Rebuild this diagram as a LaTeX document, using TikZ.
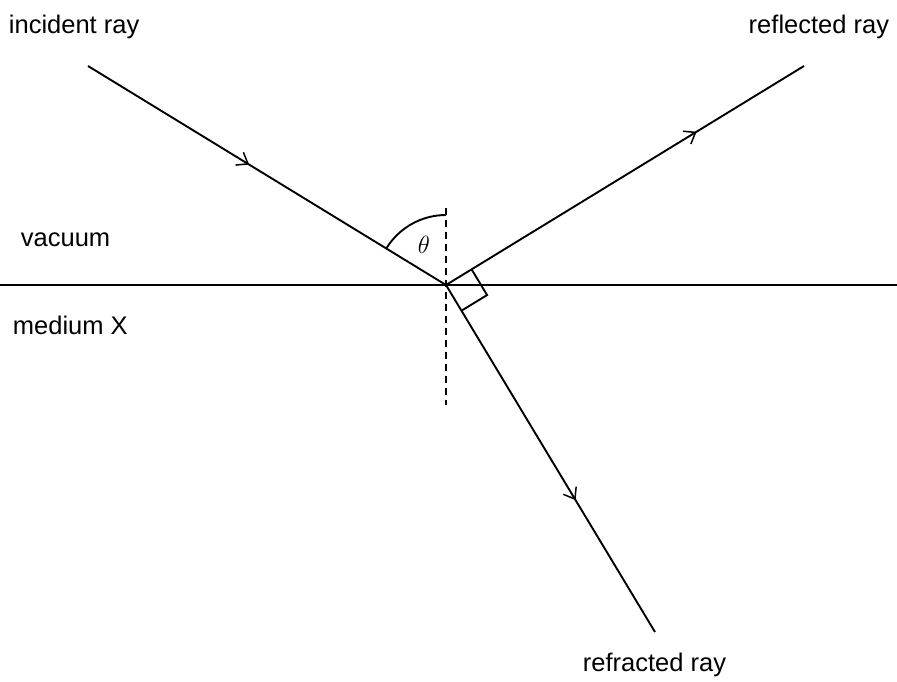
\documentclass[tikz,border=0pt]{standalone}
\usepackage{fontspec}
\setmainfont{Liberation Sans}
\usetikzlibrary{calc,arrows.meta,decorations.markings}
\begin{document}
\begin{tikzpicture}[x=1pt,y=-1pt,line width=1.9pt,
  lbl/.style={font=\fontsize{25.5}{28}\selectfont,inner sep=0pt},
  ray/.style={postaction={decorate},decoration={markings,mark=at position #1 with {\arrow{Straight Barb[length=10pt,width=15pt,line width=1.5pt]}}}}]
\useasboundingbox (0,0) rectangle (897,681);
\coordinate (P) at (446,285);
\coordinate (I) at (88,66);
\coordinate (R) at (804,66);
\coordinate (F) at (655,632);
\coordinate (L) at (0,285);
\coordinate (Rt) at (897,285);
\coordinate (N1) at (446,208);
\coordinate (N2) at (446,405);
\draw (L) -- (Rt);
\draw[line width=1.2pt,dash pattern=on 7pt off 5pt] (N1) -- (N2);
\draw[ray=0.45] (I) -- (P);
\draw[ray=0.7] (P) -- (R);
\draw[ray=0.62] (P) -- (F);
\draw ($(P)!30pt!(R)$) -- ($(P)!30pt!(R)+(P)!30pt!(F)-(P)$) -- ($(P)!30pt!(F)$);
\draw (446,215) arc[start angle=-90,end angle=-148.5,radius=70];
\node[lbl] (th) at (424,245) {$\theta$};
\node[lbl,anchor=west] (inc) at (8,27) {incident ray};
\node[lbl,anchor=east] (ref) at (890,27) {reflected ray};
\node[lbl,anchor=west] (vac) at (20,240) {vacuum};
\node[lbl,anchor=west] (med) at (12,325) {medium X};
\node[lbl,anchor=west] (fr) at (582,665) {refracted ray};
\end{tikzpicture}
\end{document}
